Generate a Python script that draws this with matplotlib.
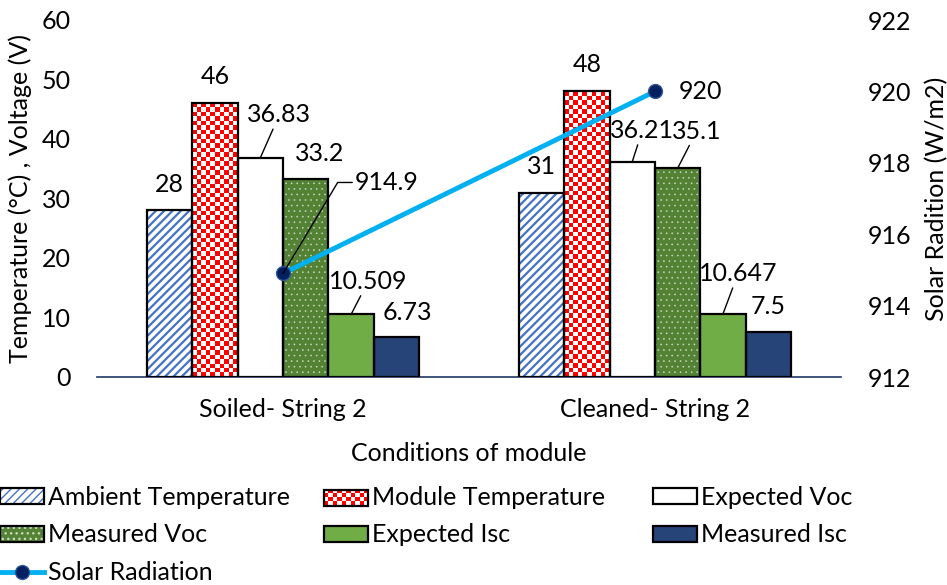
import numpy as np
import matplotlib
matplotlib.use("Agg")
import matplotlib.pyplot as plt
from matplotlib.colors import ListedColormap
from matplotlib.patches import Patch, Rectangle
from matplotlib.lines import Line2D
from matplotlib.legend_handler import HandlerTuple

categories = ['Soiled- String 2', 'Cleaned- String 2']
ambient_temp = [28, 31]
module_temp = [46, 48]
expected_voc = [36.83, 36.21]
measured_voc = [33.2, 35.1]
expected_isc = [10.509, 10.647]
measured_isc = [6.73, 7.5]
solar_radiation = [914.9, 920]

plt.rcParams['font.family'] = ['Lato', 'DejaVu Sans']
plt.rcParams['font.size'] = 18

W, H = 947, 585
fig = plt.figure(figsize=(W / 100, H / 100), dpi=100)
ax = fig.add_axes([97 / W, 208 / H, 744 / W, 357 / H])
ax.set_xlim(-0.5, 1.5)
ax.set_ylim(0, 60)

x = np.arange(len(categories))
bw = 0.122

# (values, face, hatch, hatch colour, hatch linewidth)
series = [
    (ambient_temp, 'white', '////', '#4472C4', 1.6),
    (module_temp, 'red', None, None, 1),
    (expected_voc, 'white', None, None, 1),
    (measured_voc, '#548235', '...', '#C9D9BE', 0.4),
    (expected_isc, '#70AD47', None, None, 1),
    (measured_isc, '#264478', None, None, 1),
]


def bar_layers(face, hatch, hcol, hlw):
    # fill (with its own hatch colour) and a separate black outline on top
    with plt.rc_context({'hatch.linewidth': hlw}):
        if hatch:
            fill = Patch(facecolor=face, hatch=hatch, edgecolor=hcol, lw=0)
        else:
            fill = Patch(facecolor=face, lw=0)
    return fill, Patch(facecolor='none', edgecolor='black', lw=1.6)


bars = []
for i, (vals, face, hatch, hcol, hlw) in enumerate(series):
    pos = x + (i - 2.5) * bw
    with plt.rc_context({'hatch.linewidth': hlw}):
        if hatch:
            ax.bar(pos, vals, bw, color=face, hatch=hatch, edgecolor=hcol, lw=0, zorder=2)
        else:
            ax.bar(pos, vals, bw, color=face, lw=0, zorder=2)
    b = ax.bar(pos, vals, bw, facecolor='none', edgecolor='black', lw=1.6, zorder=3)
    bars.append(b)

# red/white checkerboard for the module temperature bars
sq = 4.5
for rect in bars[1]:
    x0, x1 = rect.get_x(), rect.get_x() + rect.get_width()
    h = rect.get_height()
    p0 = ax.transData.transform((x0, 0))
    p1 = ax.transData.transform((x1, h))
    nx = max(1, int(round((p1[0] - p0[0]) / sq)))
    ny = max(1, int(round((p1[1] - p0[1]) / sq)))
    checker = np.add.outer(np.arange(ny), np.arange(nx)) % 2
    ax.imshow(checker, cmap=ListedColormap(['red', 'white']), extent=(x0, x1, 0, h),
              aspect='auto', interpolation='nearest', zorder=2.5)
ax.set_xlim(-0.5, 1.5)
ax.set_ylim(0, 60)

# data labels: offsets in pixels (right, up) from the bar top centre
label_offsets = [
    [(0, 26, False), (0, 26, False)],
    [(0, 27, False), (0, 27, False)],
    [(19, 43, True), (10, 31, True)],
    [(14, 26, False), (19, 37, True)],
    [(17, 33, True), (15, 40, True)],
    [(11, 24, False), (0, 26, False)],
]
for (vals, *_), bset, offs in zip(series, bars, label_offsets):
    for rect, v, (dx, dy, lead) in zip(bset, vals, offs):
        xc = rect.get_x() + rect.get_width() / 2
        kw = {}
        if lead:
            kw['arrowprops'] = dict(arrowstyle='-', lw=1.0, color='black', shrinkA=0, shrinkB=0)
        ax.annotate(f'{v:g}', xy=(xc, v), xytext=(dx * 0.72, dy * 0.72),
                    textcoords='offset points', ha='center', va='center', zorder=4, **kw)

ax.set_yticks(np.arange(0, 61, 10))
ax.set_xticks(x)
ax.set_xticklabels(categories)
ax.tick_params(axis='y', length=0, pad=19)
ax.tick_params(axis='x', length=0, pad=15)
for s in ['top', 'right', 'left']:
    ax.spines[s].set_visible(False)
ax.spines['bottom'].set_color('#1F3864')
ax.spines['bottom'].set_linewidth(1.2)
ax.set_ylabel('Temperature (°C) , Voltage (V)', labelpad=7)
ax.set_xlabel('Conditions of module', labelpad=15)

ax2 = ax.twinx()
ax2.set_ylim(912, 922)
ax2.set_yticks(np.arange(912, 923, 2))
ax2.tick_params(axis='y', length=0, pad=19)
for s in ax2.spines.values():
    s.set_visible(False)
ax2.set_ylabel('Solar Radition (W/m2)', labelpad=10)
ax2.plot(x, solar_radiation, color='#00B0F0', lw=3.5, marker='o', ms=10,
         mfc='#002060', mec='#2F5597', mew=1, zorder=3)

ax2.annotate(f'{solar_radiation[0]:g}', xy=(x[0], solar_radiation[0]),
             xytext=(104 * 0.72, 91 * 0.72), textcoords='offset points',
             ha='center', va='center',
             arrowprops=dict(arrowstyle='-', lw=1.0, color='black', shrinkA=0, shrinkB=0,
                             relpos=(0, 0.5),
                             connectionstyle='angle,angleA=0,angleB=59,rad=0'))
ax2.annotate(f'{solar_radiation[1]:g}', xy=(x[1], solar_radiation[1]),
             xytext=(45 * 0.72, 0), textcoords='offset points', ha='center', va='center')


class CheckerHandler:
    def legend_artist(self, legend, orig_handle, fontsize, handlebox):
        x0, y0 = handlebox.xdescent, handlebox.ydescent
        w, h = handlebox.width, handlebox.height
        t = handlebox.get_transform()
        handlebox.add_artist(Rectangle((x0, y0), w, h, facecolor='white', lw=0, transform=t))
        s = 3.2
        for i in range(int(np.ceil(w / s))):
            for j in range(int(np.ceil(h / s))):
                if (i + j) % 2 == 0:
                    handlebox.add_artist(Rectangle((x0 + i * s, y0 + j * s), min(s, w - i * s),
                                                   min(s, h - j * s), facecolor='red', lw=0,
                                                   transform=t))
        edge = Rectangle((x0, y0), w, h, facecolor='none', edgecolor='black', lw=1.6, transform=t)
        handlebox.add_artist(edge)
        return edge


checker_handle = Patch(facecolor='red')
h_amb = bar_layers(*series[0][1:])
h_evoc = bar_layers(*series[2][1:])
h_mvoc = bar_layers(*series[3][1:])
h_eisc = bar_layers(*series[4][1:])
h_misc = bar_layers(*series[5][1:])
h_sun = Line2D([], [], color='#00B0F0', lw=3.5, marker='o', ms=10, mfc='#002060', mec='#2F5597')

leg_kw = dict(loc='upper left', frameon=False, borderpad=0, borderaxespad=0,
              handlelength=1.75, handleheight=0.6, handletextpad=0.15, labelspacing=0.58,
              handler_map={tuple: HandlerTuple(ndivide=1), checker_handle: CheckerHandler()})
top = (H - 486) / H
fig.legend([h_amb, h_mvoc, h_sun], ['Ambient Temperature', 'Measured Voc', 'Solar Radiation'],
           bbox_to_anchor=(0, top), **leg_kw)
fig.legend([checker_handle, h_eisc], ['Module Temperature', 'Expected Isc'],
           bbox_to_anchor=(324 / W, top), **leg_kw)
fig.legend([h_evoc, h_misc], ['Expected Voc', 'Measured Isc'],
           bbox_to_anchor=(653 / W, top), **leg_kw)

fig.savefig('out.png', dpi=100)
